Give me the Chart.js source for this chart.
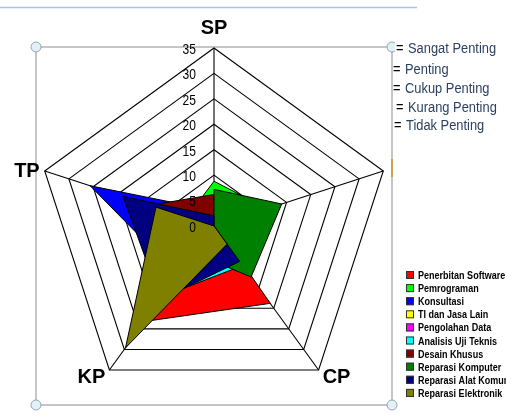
<!DOCTYPE html>
<html>
<head>
<meta charset="utf-8">
<script src="https://cdn.jsdelivr.net/npm/chart.js@4.4.0/dist/chart.umd.min.js"></script>
<style>
  html, body { margin: 0; padding: 0; background: #fff; }
  #wrap { position: relative; width: 506px; height: 417px; overflow: hidden; }
</style>
</head>
<body>
<div id="wrap"><canvas id="radarChart" width="506" height="417"></canvas></div>
<script>
// axes, clockwise from the top
const axisLabels = ["SP", "P", "CP", "KP", "TP"];
const tickValues = [0, 5, 10, 15, 20, 25, 30, 35];

const seriesNames = [
  "Penerbitan Software", "Pemrograman", "Konsultasi", "TI dan Jasa Lain",
  "Pengolahan Data", "Analisis Uji Teknis", "Desain Khusus",
  "Reparasi Komputer", "Reparasi Alat Komunikasi", "Reparasi Elektronik"
];
const seriesColors = [
  "#ff0000", "#00ff00", "#0000ff", "#ffff00", "#ff00ff",
  "#00ffff", "#800000", "#008000", "#000080", "#808000"
];

// values per axis: SP, P, CP, KP, TP
const penerbitanSoftware = [2, 0.5, 18.8, 23.2, 2];
const pemrograman = [8.8, 11, 2, 2, 5.6];
const konsultasi = [3, 0, 4, 12, 25.6];
const tiJasaLain = [1, 1, 1, 1, 1];
const pengolahanData = [1, 1, 1, 1, 1];
const analisisUjiTeknis = [0, 0, 9.6, 17.1, 0];
const desainKhusus = [6.2, 0, 0, 0, 13.2];
const reparasiKomputer = [7.2, 14, 12.4, 6.6, 0];
const reparasiAlatKomunikasi = [2, 0, 8.6, 17.9, 18.8];
const reparasiElektronik = [0, 0, 4.4, 29.6, 12];

const seriesValues = [
  penerbitanSoftware, pemrograman, konsultasi, tiJasaLain, pengolahanData,
  analisisUjiTeknis, desainKhusus, reparasiKomputer, reparasiAlatKomunikasi,
  reparasiElektronik
];

const keyLabels = ["Sangat Penting", "Penting", "Cukup Penting", "Kurang Penting", "Tidak Penting"];

// draws text squeezed horizontally (narrow fonts in the original)
function narrowText(ctx, text, x, y, sx, align) {
  ctx.save();
  ctx.translate(x, y);
  ctx.scale(sx, 1);
  ctx.textAlign = align;
  ctx.fillText(text, 0, 0);
  ctx.restore();
}

// frame, handles, tick labels, axis names, notes and legend
const overlayPlugin = {
  id: "overlay",
  beforeDraw: function (chart) {
    const ctx = chart.ctx;
    ctx.save();
    ctx.strokeStyle = "#a9c4e6";
    ctx.lineWidth = 1.5;
    ctx.beginPath();
    ctx.moveTo(0, 7.5);
    ctx.lineTo(417, 7.5);
    ctx.stroke();

    ctx.strokeStyle = "#c6c6c6";
    ctx.lineWidth = 2;
    ctx.strokeRect(36, 47, 356, 358);
    ctx.restore();
  },
  afterDraw: function (chart) {
    const ctx = chart.ctx;
    const scale = chart.scales.r;
    ctx.save();

    // tick labels, left of the SP axis
    ctx.font = "14px Arial";
    ctx.fillStyle = "#000";
    ctx.textBaseline = "middle";
    tickValues.forEach(function (v) {
      const p = scale.getPointPositionForValue(0, v);
      narrowText(ctx, String(v), p.x - 18, p.y + 2, 0.86, "right");
    });

    // axis names (the right one is hidden under the note box)
    ctx.font = "bold 20px Arial";
    const top = scale.max;
    let p = scale.getPointPositionForValue(0, top);
    ctx.textAlign = "center";
    ctx.fillText(axisLabels[0], p.x, p.y - 20);
    p = scale.getPointPositionForValue(2, top);
    ctx.textAlign = "left";
    ctx.fillText(axisLabels[2], p.x + 4, p.y + 7);
    p = scale.getPointPositionForValue(3, top);
    ctx.textAlign = "right";
    ctx.fillText(axisLabels[3], p.x - 4, p.y + 7);
    p = scale.getPointPositionForValue(4, top);
    ctx.fillText(axisLabels[4], p.x - 5, p.y);

    // selection handles
    [[36, 47], [392, 47], [36, 405], [392, 405]].forEach(function (c) {
      ctx.beginPath();
      ctx.arc(c[0], c[1], 5, 0, Math.PI * 2);
      ctx.fillStyle = "#e4eff6";
      ctx.fill();
      ctx.strokeStyle = "#8fa9b8";
      ctx.lineWidth = 1;
      ctx.stroke();
    });

    // note box at the top right
    ctx.fillStyle = "#fff";
    ctx.fillRect(395, 36, 111, 100);
    ctx.fillStyle = "#fff";
    ctx.fillRect(393, 150, 40, 45);
    ctx.fillStyle = "#c9a64a";
    ctx.fillRect(391, 159, 2, 18);
    ctx.font = "14px Arial";
    const noteX = [396, 393, 393, 396, 394];
    const noteY = [49, 70, 89, 108, 126];
    keyLabels.forEach(function (t, i) {
      ctx.fillStyle = "#000";
      narrowText(ctx, "=", noteX[i], noteY[i], 0.92, "left");
      ctx.fillStyle = "#2c4160";
      narrowText(ctx, t, noteX[i] + 12, noteY[i], 0.92, "left");
    });

    // legend
    seriesNames.forEach(function (name, i) {
      const y = 275 + i * 13.1;
      ctx.fillStyle = seriesColors[i];
      ctx.fillRect(406, y - 4, 8, 8);
      ctx.strokeStyle = "#333";
      ctx.lineWidth = 1;
      ctx.strokeRect(406.5, y - 3.5, 7, 7);
      ctx.font = "bold 11px Arial";
      ctx.fillStyle = "#000";
      narrowText(ctx, name, 418, y + 1, 0.82, "left");
    });

    ctx.restore();
  }
};

const datasets = seriesNames.map(function (name, i) {
  return {
    label: name,
    data: seriesValues[i],
    backgroundColor: seriesColors[i],
    borderColor: "#000",
    borderWidth: 1,
    fill: true,
    pointRadius: 0,
    pointHoverRadius: 0,
    order: seriesNames.length - i // later series sit on top
  };
});

const ctx = document.getElementById("radarChart").getContext("2d");
const myChart = new Chart(ctx, {
  type: "radar",
  data: { labels: axisLabels, datasets: datasets },
  options: {
    responsive: false,
    animation: false,
    layout: { padding: 0 },
    elements: { line: { tension: 0 } },
    plugins: {
      legend: { display: false },
      tooltip: { enabled: false }
    },
    scales: {
      r: {
        min: 0,
        max: 35,
        ticks: { stepSize: 5, display: false },
        grid: { color: "#000", lineWidth: 1.1 },
        angleLines: { color: "#000", lineWidth: 1.1 },
        pointLabels: { display: false },
        afterFit: function (scale) {
          scale.xCenter = 214;
          scale.yCenter = 226;
          scale.drawingArea = 178;
        }
      }
    }
  },
  plugins: [overlayPlugin]
});
</script>
</body>
</html>
